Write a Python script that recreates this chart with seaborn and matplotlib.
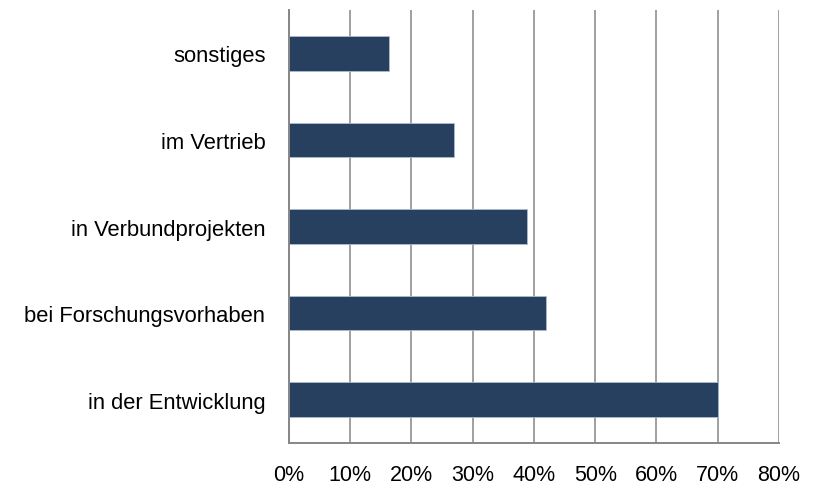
import matplotlib
matplotlib.use("Agg")
import matplotlib.pyplot as plt
import seaborn as sns
from matplotlib.ticker import FuncFormatter, FixedLocator


# ===================== DATA =====================
categories = [
    "sonstiges",
    "im Vertrieb",
    "in Verbundprojekten",
    "bei Forschungsvorhaben",
    "in der Entwicklung",
]
shares = [0.164, 0.270, 0.389, 0.420, 0.701]
x_ticks = [0.0, 0.1, 0.2, 0.3, 0.4, 0.5, 0.6, 0.7, 0.8]


# ===================== STYLE =====================
sns.set_style("white")
plt.rcParams["font.family"] = ["Liberation Sans", "DejaVu Sans"]

BAR_COLOR = "#27405f"
AXIS_GRAY = "#868686"


# ===================== PLOT =====================
fig = plt.figure(figsize=(8.14, 4.89), dpi=100)
ax = fig.add_axes([0.355, 0.092, 0.602, 0.8855])

sns.barplot(
    x=shares,
    y=categories,
    orient="h",
    color=BAR_COLOR,
    saturation=1,
    width=0.4,
    edgecolor="#aebbd0",
    linewidth=0.6,
    ax=ax,
    zorder=3,
)

ax.set_xlim(0, 0.8)
ax.set_ylim(len(categories) - 0.5, -0.5)

# x axis: percent ticks + vertical grid
ax.xaxis.set_major_locator(FixedLocator(x_ticks))
ax.xaxis.set_major_formatter(FuncFormatter(lambda v, _: f"{v * 100:.0f}%"))
ax.grid(axis="x", color=AXIS_GRAY, linewidth=1.1, zorder=0)
ax.grid(axis="y", visible=False)
ax.set_axisbelow(True)

# y axis: labels at bar centres, tick marks at category boundaries
ax.set_yticks(range(len(categories)))
ax.set_yticklabels(categories)
ax.set_yticks([i - 0.5 for i in range(len(categories) + 1)], minor=True)

ax.tick_params(axis="y", which="major", length=0, pad=17, labelsize=15.8, labelcolor="#000000")
ax.tick_params(axis="y", which="minor", length=4.5, width=1.1, color=AXIS_GRAY, direction="out")
ax.tick_params(axis="x", which="major", length=4.5, width=1.1, color=AXIS_GRAY, direction="out",
               pad=10.5, labelsize=15.5, labelcolor="#000000")

for side in ["top", "right"]:
    ax.spines[side].set_visible(False)
for side in ["left", "bottom"]:
    ax.spines[side].set_color(AXIS_GRAY)
    ax.spines[side].set_linewidth(1.4)
    ax.spines[side].set_zorder(4)

ax.set_xlabel("")
ax.set_ylabel("")

fig.savefig("out.png", dpi=100)
plt.close(fig)
